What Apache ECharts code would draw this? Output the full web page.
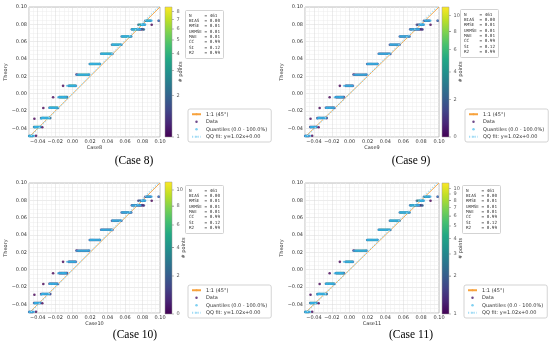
<!DOCTYPE html>
<html><head><meta charset="utf-8">
<script src="https://cdn.jsdelivr.net/npm/echarts@6/dist/echarts.min.js"></script>
<style>html,body{margin:0;padding:0;background:#fff}#c{width:550px;height:345px}</style>
</head><body><div id="c"></div>
<script>
// ---------------- data ----------------
const caseNames = ['Case8', 'Case9', 'Case10', 'Case11'];
const captions = ['(Case 8)', '(Case 9)', '(Case 10)', '(Case 11)'];
const axisMin = -0.05, axisMax = 0.10;
const levelY = [-0.0488, -0.0385, -0.0280, -0.0163, -0.0040, 0.0090, 0.0218, 0.0343, 0.0460, 0.0565, 0.0660, 0.0742, 0.0796, 0.0842];
const levelX = [
  [-0.0498, -0.0490, -0.0482, -0.0474, -0.0466, -0.0458],
  [-0.0442, -0.0434, -0.0426, -0.0418, -0.0410, -0.0402, -0.0394, -0.0386, -0.0378, -0.0370],
  [-0.0362, -0.0352, -0.0342, -0.0332, -0.0322, -0.0312, -0.0302, -0.0292, -0.0282, -0.0272, -0.0264],
  [-0.0266, -0.0256, -0.0246, -0.0236, -0.0226, -0.0216, -0.0206, -0.0196, -0.0186, -0.0176],
  [-0.0152, -0.0142, -0.0132, -0.0122, -0.0112, -0.0102, -0.0092, -0.0082, -0.0072, -0.0064],
  [-0.0044, -0.0034, -0.0024, -0.0014, -0.0004, 0.0006, 0.0016, 0.0026, 0.0036],
  [0.0058, 0.0070, 0.0082, 0.0094, 0.0106, 0.0118, 0.0130, 0.0142, 0.0154, 0.0166, 0.0178, 0.0188],
  [0.0196, 0.0206, 0.0216, 0.0226, 0.0236, 0.0246, 0.0258, 0.0270, 0.0282, 0.0294, 0.0306],
  [0.0326, 0.0338, 0.0350, 0.0362, 0.0374, 0.0386, 0.0398, 0.0410, 0.0422, 0.0434, 0.0446],
  [0.0450, 0.0462, 0.0474, 0.0486, 0.0498, 0.0510, 0.0522, 0.0534, 0.0546, 0.0558],
  [0.0562, 0.0574, 0.0586, 0.0598, 0.0610, 0.0622, 0.0634, 0.0646, 0.0658, 0.0670],
  [0.0678, 0.0690, 0.0702, 0.0714, 0.0726, 0.0738, 0.0750, 0.0764, 0.0778, 0.0792, 0.0806],
  [0.0752, 0.0764, 0.0776, 0.0788, 0.0800, 0.0812, 0.0824],
  [0.0832, 0.0844, 0.0856, 0.0868, 0.0880, 0.0892]
];
const strayPts = [
  [-0.0420, -0.0486], [-0.0438, -0.0290], [-0.0336, -0.0165], [-0.0224, -0.0042], [-0.0110, 0.0090],
  [0.0044, 0.0222], [-0.0348, -0.0388], [-0.0256, -0.0282], [-0.0168, -0.0165], [0.0312, 0.0342],
  [0.0455, 0.0458], [0.0815, 0.0740], [0.0905, 0.0796], [0.0985, 0.0842]
];
const statNames = ['N', 'BIAS', 'RMSE', 'URMSE', 'MAE', 'CC', 'SI', 'R2'];
const statValues = ['461', '0.00', '0.01', '0.01', '0.01', '0.99', '0.12', '0.99'];
const qqSlope = 1.02, qqIntercept = 0.00;
const cbTicks = [[1, 2, 3, 4, 5, 6, 7, 8], [0, 2, 4, 6, 8, 10], [0, 2, 4, 6, 8, 10], [1, 2, 3, 4, 5, 6, 7, 8, 9, 10]];
const cbRange = [[1, 8.65], [0, 11.2], [0, 11.1], [1, 11]];
const cbScale = ['log', 'shift', 'shift', 'log'];
const legendNames = ['1:1 (45°)', 'Data', 'Quantiles (0.0 - 100.0%)', 'QQ fit: y=1.02x+0.00'];

// ---------------- layout ----------------
const mainGrids = [
  {left: 29, top: 7, width: 131, height: 130},
  {left: 305, top: 7, width: 134, height: 130},
  {left: 29, top: 183, width: 131, height: 130},
  {left: 305, top: 183, width: 134, height: 130}
];
const cbGrids = [
  {left: 165, top: 7, width: 7, height: 130},
  {left: 442, top: 7, width: 7, height: 130},
  {left: 165, top: 182, width: 7, height: 132},
  {left: 442, top: 183, width: 7, height: 131}
];
const cbNameGap = [6.5, 9, 9, 9];
const statsPos = [[185, 10], [460, 9], [185, 185], [462, 185]];
const legendPos = [[188, 109], [465, 109], [188, 285], [464, 285]];
const captionPos = [[134, 161], [411, 161], [135, 335], [411, 335]];

const viridis = ['#440154', '#482475', '#414487', '#355f8d', '#2a788e', '#21918c', '#22a884', '#44bf70', '#7ad151', '#bddf26', '#fde725'];
const FONT = 'DejaVu Sans';

// ---------------- build ----------------
const dataPts = [];
levelX.forEach((xs, i) => xs.forEach(x => dataPts.push([x, levelY[i]])));
strayPts.forEach(p => dataPts.push(p));

// local point count (# points) around each data point
const radius = 0.0013;
const counts = dataPts.map(p => dataPts.filter(q => Math.hypot(q[0] - p[0], q[1] - p[1]) <= radius).length);

// empirical quantiles: sorted x vs sorted y
const sx = dataPts.map(p => p[0]).sort((a, b) => a - b);
const sy = dataPts.map(p => p[1]).sort((a, b) => a - b);
const quantPts = sx.map((x, i) => [x, sy[i]]);

function T(p, v) { return cbScale[p] === 'log' ? Math.log(v) : Math.log(v + 5); }
function fmtTick(v) {
  const k = v / 0.02;
  if (Math.abs(k - Math.round(k)) > 1e-6) return '';
  const r = Math.round(k) * 0.02;
  return (r < -1e-9 ? '\u2212' : '') + Math.abs(r).toFixed(2);
}

const grid = [], xAxis = [], yAxis = [], series = [], visualMap = [], legend = [], title = [], graphic = [];

for (let p = 0; p < 4; p++) {
  const m = grid.length;
  grid.push(Object.assign({show: true, borderColor: '#b0b0b0', borderWidth: 0.8, backgroundColor: '#fff'}, mainGrids[p]));
  const axisCommon = {
    type: 'value', min: axisMin, max: axisMax, interval: 0.005,
    axisLine: {show: false}, axisTick: {show: false},
    axisLabel: {formatter: fmtTick, fontSize: 5, fontFamily: FONT, color: '#333', margin: 2},
    splitLine: {show: true, lineStyle: {color: ['#ececec', '#ececec', '#d8d8d8', '#ececec'], width: 0.5}},
    nameLocation: 'middle', nameTextStyle: {fontSize: 5, fontFamily: FONT, color: '#333'}
  };
  xAxis.push(Object.assign({}, axisCommon, {gridIndex: m, name: caseNames[p], nameGap: 8}));
  yAxis.push(Object.assign({}, axisCommon, {gridIndex: m, name: 'Theory', nameGap: 19}));

  const base = series.length;
  series.push({
    name: legendNames[0], type: 'line', xAxisIndex: m, yAxisIndex: m,
    data: [[axisMin, axisMin], [axisMax, axisMax]], symbol: 'none',
    lineStyle: {color: '#f7a23c', width: 0.9}, itemStyle: {color: '#f7a23c'}, z: 2, silent: true
  });
  series.push({
    name: legendNames[1], type: 'scatter', xAxisIndex: m, yAxisIndex: m,
    data: dataPts.map((d, i) => [d[0], d[1], T(p, Math.min(Math.max(counts[i] - (cbScale[p] === 'log' ? 0 : 1), cbRange[p][0]), cbRange[p][1]))]),
    symbolSize: 2.6, itemStyle: {color: '#440154'}, z: 3, silent: true
  });
  series.push({
    name: legendNames[2], type: 'scatter', xAxisIndex: m, yAxisIndex: m,
    data: quantPts, symbolSize: 2.2, itemStyle: {color: 'rgba(56,178,230,0.85)'}, z: 4, silent: true
  });
  series.push({
    name: legendNames[3], type: 'line', xAxisIndex: m, yAxisIndex: m,
    data: [[axisMin, qqSlope * axisMin + qqIntercept], [axisMax, qqSlope * axisMax + qqIntercept]], symbol: 'none',
    lineStyle: {color: '#a3dcf5', width: 1.3, type: [1.2, 1.6]}, itemStyle: {color: '#a3dcf5'}, z: 5, silent: true
  });
  visualMap.push({
    show: false, seriesIndex: base + 1, dimension: 2,
    min: T(p, cbRange[p][0]), max: T(p, cbRange[p][1]), inRange: {color: viridis}
  });

  // colorbar
  const g = grid.length;
  grid.push(Object.assign({show: false}, cbGrids[p]));
  xAxis.push({type: 'value', gridIndex: g, min: 0, max: 1, show: false});
  yAxis.push({
    type: 'value', gridIndex: g, min: T(p, cbRange[p][0]), max: T(p, cbRange[p][1]), position: 'right',
    axisLine: {show: false}, axisTick: {show: false}, axisLabel: {show: false}, splitLine: {show: false},
    name: '# points', nameLocation: 'middle', nameRotate: 90, nameGap: cbNameGap[p],
    nameTextStyle: {fontSize: 5, fontFamily: FONT, color: '#333'}
  });
  series.push({
    type: 'custom', xAxisIndex: g, yAxisIndex: g, silent: true,
    data: [[0, 1, T(p, cbRange[p][0]), T(p, cbRange[p][1])]],
    renderItem: (params, api) => {
      const a = api.coord([api.value(0), api.value(3)]);
      const b = api.coord([api.value(1), api.value(2)]);
      return {
        type: 'rect', shape: {x: a[0], y: a[1], width: b[0] - a[0], height: b[1] - a[1]},
        style: {
          fill: new echarts.graphic.LinearGradient(0, 1, 0, 0, viridis.map((c, i) => ({offset: i / (viridis.length - 1), color: c}))),
          stroke: '#9a9a9a', lineWidth: 0.5
        }
      };
    }
  });
  series.push({
    type: 'scatter', xAxisIndex: g, yAxisIndex: g, silent: true,
    data: cbTicks[p].map(v => [1, T(p, v), v]),
    symbol: 'rect', symbolSize: [2, 0.6], symbolOffset: [1, 0], itemStyle: {color: '#555'},
    label: {show: true, position: 'right', distance: 2.5, formatter: q => String(q.value[2]), fontSize: 5, fontFamily: FONT, color: '#333'}
  });

  legend.push({
    left: legendPos[p][0], top: legendPos[p][1], orient: 'vertical',
    data: [
      {name: legendNames[0]},
      {name: legendNames[1], icon: 'circle', itemStyle: {color: '#4a1a6c'}},
      {name: legendNames[2], icon: 'circle', itemStyle: {color: '#5fc4ee'}},
      {name: legendNames[3]}
    ],
    itemWidth: 9, itemHeight: 2.5, itemGap: 2, padding: [2.5, 4, 2.5, 3],
    backgroundColor: '#fff', borderColor: '#c8c8c8', borderWidth: 0.8, borderRadius: 2,
    textStyle: {fontSize: 5, fontFamily: FONT, color: '#333', lineHeight: 5.5, padding: [0, 0, 0, 0]},
    selectedMode: false
  });

  title.push({
    left: statsPos[p][0], top: statsPos[p][1],
    text: statNames.map((n, i) => (n + '      ').slice(0, 6) + '= ' + statValues[i]).join('\n'),
    textStyle: {fontSize: 4.3, fontFamily: 'DejaVu Sans Mono', fontWeight: 'normal', color: '#333', lineHeight: 5.3},
    padding: [3, 4, 3, 4], backgroundColor: '#fff', borderColor: '#c8c8c8', borderWidth: 0.8, borderRadius: 1
  });

  graphic.push({
    type: 'text', x: captionPos[p][0], y: captionPos[p][1], silent: true,
    style: {text: captions[p], textAlign: 'center', textVerticalAlign: 'middle', fontSize: 11.5, fontFamily: 'Liberation Serif', fill: '#000'}
  });
}

const chart = echarts.init(document.getElementById('c'), null, {renderer: 'canvas'});
chart.setOption({animation: false, grid, xAxis, yAxis, series, visualMap, legend, title, graphic});
</script>
</body></html>
